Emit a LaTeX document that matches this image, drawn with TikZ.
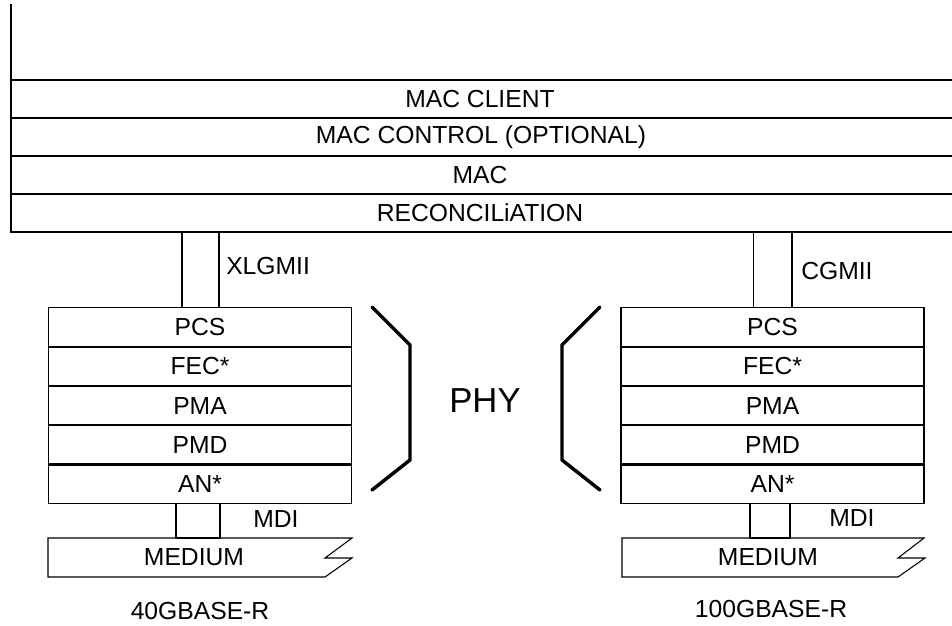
\documentclass[tikz,border=0pt]{standalone}
\usepackage{fontspec}
\setmainfont{Liberation Sans}
\usetikzlibrary{positioning}

\tikzset{
  layer/.style={draw,line width=0.8pt,minimum width=227.25pt,minimum height=28.65pt,
    inner sep=0pt,font=\fontsize{18.5}{20}\selectfont},
  label/.style={font=\fontsize{18.5}{20}\selectfont,inner sep=0pt},
  iface/.style={draw,line width=0.8pt},
  brace/.style={line width=2.6pt,line cap=round,line join=round},
}

\begin{document}
\begin{tikzpicture}[x=0.75pt,y=-0.75pt]
        \useasboundingbox (0,0) rectangle (952,625);
        % upper layers (open to the right)
        \draw[line width=1.4pt] (11,4) -- (11,232) -- (960,232);
        \foreach \yy in {80,118,156,194}
          \draw[line width=1.4pt] (11,\yy) -- (960,\yy);
        \node[label] (client) at (480,99) {MAC CLIENT};
        \node[label] (ctrl) at (481,137) {MAC CONTROL (OPTIONAL)};
        \node[label] (mac) at (480,175) {MAC};
        \node[label] (rs) at (480,213) {RECONCILiATION};
        \coordinate (rsbot) at (0,232);

        % 40G stack
        \node[layer] (pcsL) at (200,327) {PCS};
        \node[layer,below=0pt of pcsL] (fecL) {FEC*};
        \node[layer,below=0pt of fecL] (pmaL) {PMA};
        \node[layer,below=0pt of pmaL] (pmdL) {PMD};
        \node[layer,below=0pt of pmdL] (anL) {AN*};

        % 100G stack
        \node[layer] (pcsR) at (772.5,327) {PCS};
        \node[layer,below=0pt of pcsR] (fecR) {FEC*};
        \node[layer,below=0pt of fecR] (pmaR) {PMA};
        \node[layer,below=0pt of pmaR] (pmdR) {PMD};
        \node[layer,below=0pt of pmdR] (anR) {AN*};

        % media
        \draw[line width=0.8pt] (48,538) -- (352,538) -- (325,558) -- (352,558)
          -- (325,577) -- (48,577) -- cycle;
        \draw[line width=0.8pt] (622,538) -- (924,538) -- (898,558) -- (925,558)
          -- (898,577) -- (622,577) -- cycle;
        \node[label] (medL) at (194,557) {MEDIUM};
        \node[label] (medR) at (768,557) {MEDIUM};
        \coordinate (medtop) at (0,538);

        % interfaces
        \draw[iface] ([xshift=-13.5pt]pcsL.north) rectangle ([xshift=14.25pt]pcsL.north |- rsbot);
        \draw[iface] ([xshift=-14.6pt]pcsR.north) rectangle ([xshift=14.6pt]pcsR.north |- rsbot);
        \draw[iface] ([xshift=-18pt]anL.south) rectangle ([xshift=15pt]anL.south |- medtop);
        \draw[iface] ([xshift=-16.9pt]anR.south) rectangle ([xshift=13.1pt]anR.south |- medtop);
        \node[label,anchor=west] (xlgmii) at (226,266) {XLGMII};
        \node[label,anchor=west] (cgmii) at (801,271) {CGMII};
        \node[label,anchor=west] (mdiL) at (253,519) {MDI};
        \node[label,anchor=west] (mdiR) at (829,518) {MDI};

        % PHY braces
        \draw[brace] (372,307) -- (410,345) -- (410,460) -- (372,490);
        \draw[brace] (600,307) -- (562,345) -- (562,460) -- (600,490);
        \node[font=\fontsize{26}{28}\selectfont,inner sep=0pt] (phy) at (485,401) {PHY};

        \node[label] (nameL) at (200,611) {40GBASE-R};
        \node[label] (nameR) at (771,609) {100GBASE-R};
      \end{tikzpicture}
\end{document}
